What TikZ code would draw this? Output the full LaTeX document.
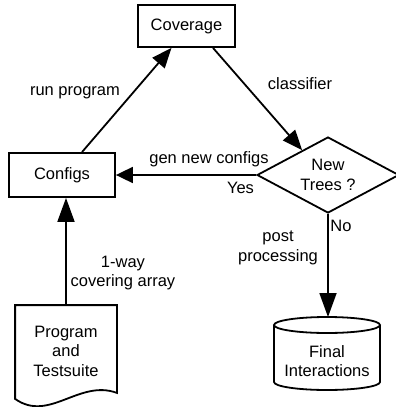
\documentclass[tikz,border=0pt]{standalone}
\usepackage{fontspec}
\setmainfont{Liberation Sans}
\usetikzlibrary{arrows.meta,shapes.geometric,calc}
\begin{document}
\begin{tikzpicture}[x=1pt,y=-1pt,
  line width=1.8pt,
  every node/.style={font=\fontsize{16.5}{19.5}\selectfont, inner sep=0pt},
  box/.style={draw, rectangle},
  arr/.style={-{Triangle[length=20pt,width=16pt]}},
  arrv/.style={-{Triangle[length=24pt,width=17pt]}},
  arrh/.style={-{Triangle[length=17pt,width=16pt]}}]
\useasboundingbox (0,0) rectangle (396,407);

% process boxes
\node[box, minimum width=97pt, minimum height=42pt] (cov) at (186.5,26) {Coverage};
\node[box, minimum width=106pt, minimum height=44pt] (cfg) at (62,175) {Configs};

% decision
\node[draw, diamond, aspect=1.87, minimum width=142pt, minimum height=76pt,
      align=center] (nt) at (328,175) {New\\Trees ?};

% document shape with wavy bottom edge
\node[minimum width=100pt, minimum height=90pt, align=center] (doc) at (66,351)
  {Program\\and\\Testsuite};
\draw (doc.north west) -- ($(doc.south west)+(0,2)$)
  .. controls ($(doc.south west)+(34,26)$) and ($(doc.south west)+(64,-18)$) ..
  ($(doc.south east)+(0,-4)$) -- (doc.north east) -- cycle;

% database cylinder
\node[align=center] (fi) at (327,361) {Final\\Interactions};
\coordinate (fitop) at (327,317);
\draw (274,325) -- (274,382) arc[start angle=180, end angle=360, x radius=53pt, y radius=8pt]
  -- (380,325);
\draw (327,325) ellipse[x radius=53pt, y radius=8pt];

% connectors
\draw[arr] ([xshift=20pt]cfg.north) -- ([xshift=-15pt]cov.south);
\draw[arr] ([xshift=26.5pt]cov.south) -- ($(nt.west)!0.64!(nt.north)$);
\draw[arrh] (nt.west) -- (cfg.east);
\draw[arrv] (doc.north) -- (doc.north |- cfg.south);
\draw[arrv] (nt.south) -- (nt.south |- fitop);

% connector labels
\node (lrun) at (75,93) {run program};
\node (lcls) at (300,84) {classifier};
\node (lgen) at (209,159) {gen new configs};
\node (lyes) at (240.5,188) {Yes};
\node (lno) at (341,226) {No};
\node[align=center] (lpost) at (278,248) {post\\processing};
\node[align=center] (lcva) at (123,273) {1-way\\covering array};
\end{tikzpicture}
\end{document}
